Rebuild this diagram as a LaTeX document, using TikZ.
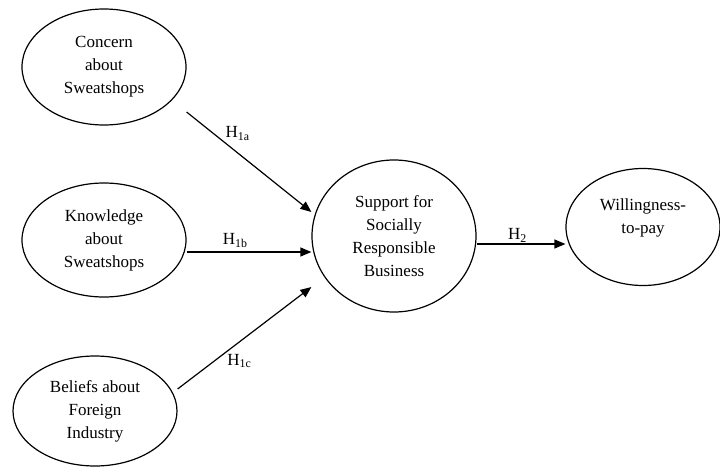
\documentclass[tikz,border=0pt]{standalone}
\usepackage{fontspec}
\setmainfont{Liberation Serif}
\usetikzlibrary{shapes,arrows.meta,positioning}
\tikzstyle{construct} = [ellipse, draw, line width=1.2pt, align=center,
    inner sep=0pt, font=\fontsize{17}{23}\selectfont]
\tikzstyle{line} = [draw, line width=1.2pt, -{Triangle[length=11pt,width=9pt]}]
\tikzstyle{hyp} = [font=\fontsize{17}{20}\selectfont, inner sep=1pt]

\begin{document}
\begin{tikzpicture}[x=1pt, y=-1pt]
        \useasboundingbox (0,0) rectangle (720,468);
        \node [construct, minimum width=164pt, minimum height=116pt] (concern) at (104,67) {Concern\\about\\Sweatshops};
        \node [construct, minimum width=164pt, minimum height=114pt] (knowledge) at (104,240) {Knowledge\\about\\Sweatshops};
        \node [construct, minimum width=164pt, minimum height=110pt] (beliefs) at (95,411) {Beliefs about\\Foreign\\Industry};
        \node [construct, minimum width=164pt, minimum height=152pt] (support) at (394,236) {Support for\\Socially\\Responsible\\Business};
        \node [construct, minimum width=154pt, minimum height=117pt, text depth=22pt] (wtp) at (643,227) {Willingness-\\to-pay};

        \path [line] ([yshift=-45pt]concern.east) -- node [hyp, pos=0.3, above right] {H\textsubscript{1a}} ([yshift=24pt]support.west);
        \path [line] ([yshift=-12pt]knowledge.east) -- node [hyp, pos=0.39, above=3pt] {H\textsubscript{1b}} ([yshift=-16pt]support.west);
        \path [line] ([yshift=22pt]beliefs.east) -- node [hyp, pos=0.36, below right] {H\textsubscript{1c}} ([yshift=-51pt]support.west);
        \path [line] ([yshift=-8pt]support.east) -- node [hyp, pos=0.46, above] {H\textsubscript{2}} ([yshift=-17pt]wtp.west);
    \end{tikzpicture}
\end{document}
